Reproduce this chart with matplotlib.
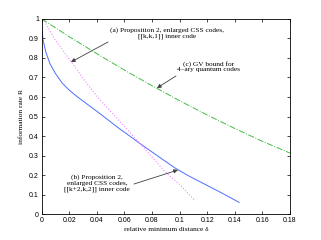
import matplotlib
matplotlib.use("Agg")
import matplotlib.pyplot as plt

# curve (a): Proposition 2, [[k,k,1]] inner code (dotted)
delta_a = [0.002, 0.009, 0.0215, 0.031, 0.0423, 0.058, 0.0712, 0.082, 0.0894, 0.1003, 0.111]
rate_a = [0.99, 0.90, 0.78, 0.685, 0.585, 0.465, 0.362, 0.277, 0.217, 0.15, 0.07]

# curve (b): Proposition 2, [[k+2,k,2]] inner code (solid)
delta_b = [0, 0.001, 0.003, 0.006, 0.01, 0.015, 0.02, 0.026, 0.042, 0.055, 0.0712,
           0.0857, 0.097, 0.106, 0.129, 0.1432]
rate_b = [0.952, 0.89, 0.83, 0.77, 0.72, 0.67, 0.635, 0.60, 0.516, 0.445, 0.362,
          0.29, 0.235, 0.198, 0.114, 0.06]

# curve (c): GV bound for 4-ary quantum codes (dash-dot)
delta_c = [0, 0.02, 0.04, 0.06, 0.08, 0.10, 0.12, 0.14, 0.16, 0.18]
rate_c = [1.0, 0.909, 0.822, 0.738, 0.658, 0.581, 0.508, 0.439, 0.373, 0.313]

xticks = [0, 0.02, 0.04, 0.06, 0.08, 0.1, 0.12, 0.14, 0.16, 0.18]
xticklabels = ["0", "0.02", "0.04", "0.06", "0.08", "0.1", "0.12", "0.14", "0.16", "0.18"]
yticks = [0, 0.1, 0.2, 0.3, 0.4, 0.5, 0.6, 0.7, 0.8, 0.9, 1]
yticklabels = ["0", "0.1", "0.2", "0.3", "0.4", "0.5", "0.6", "0.7", "0.8", "0.9", "1"]

fig = plt.figure(figsize=(3.21, 2.40), dpi=100)
ax = fig.add_axes([0.130, 0.108, 0.773, 0.813])

ax.plot(delta_b, rate_b, "-", color="#4d6eff", lw=0.7)
ax.plot(delta_a, rate_a, ":", color="#ee88ff", lw=0.8)
ax.plot(delta_c, rate_c, "-.", color="#44bb44", lw=0.7)

ax.set_xlim(0, 0.18)
ax.set_ylim(0, 1)
ax.set_xticks(xticks)
ax.set_xticklabels(xticklabels, family="Liberation Sans", fontsize=5)
ax.set_yticks(yticks)
ax.set_yticklabels(yticklabels, family="Liberation Sans", fontsize=5)
ax.tick_params(direction="in", length=2.5, width=0.5, top=True, right=True, pad=2)
for s in ax.spines.values():
    s.set_linewidth(0.6)

serif = "Liberation Serif"
ax.set_xlabel("relative minimum distance δ", family=serif, fontsize=5.3, labelpad=2)
ax.set_ylabel("information rate R", family=serif, fontsize=5.3, labelpad=4)

arrow = dict(arrowstyle="-|>", color="0.25", lw=0.6, mutation_scale=6, shrinkA=0, shrinkB=0)

# (a)
ax.text(0.0908, 0.926, "(a) Proposition 2, enlarged CSS codes,\n[[k,k,1]] inner code",
        ha="center", va="center", family=serif, fontsize=5.3, linespacing=1.2)
ax.annotate("", xy=(0.0212, 0.779), xytext=(0.0481, 0.882), arrowprops=arrow)

# (c)
ax.text(0.1209, 0.756, "(c) GV bound for\n4\u2013ary quantum codes",
        ha="center", va="center", family=serif, fontsize=5.3, linespacing=1.2)
ax.annotate("", xy=(0.0836, 0.646), xytext=(0.0974, 0.708), arrowprops=arrow)

# (b)
ax.text(0.0401, 0.157, "(b) Proposition 2,\nenlarged CSS codes,\n[[k+2,k,2]] inner code",
        ha="center", va="center", family=serif, fontsize=5.3, linespacing=1.2)
ax.annotate("", xy=(0.0988, 0.226), xytext=(0.0669, 0.154), arrowprops=arrow)

fig.savefig("out.png", dpi=100)
